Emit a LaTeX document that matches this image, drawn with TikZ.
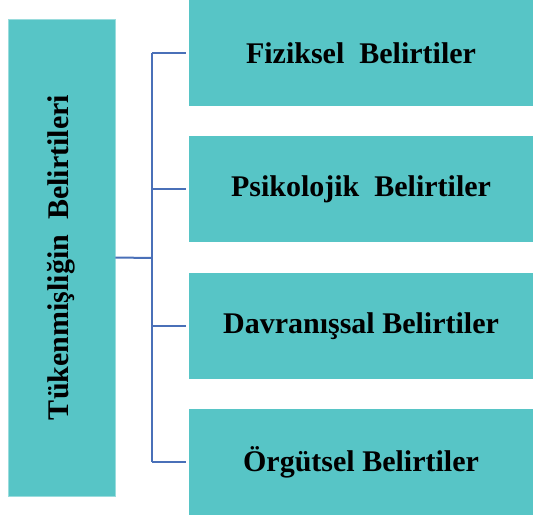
\documentclass[tikz,border=0pt]{standalone}
\usepackage{fontspec}
\setmainfont{Liberation Serif}
\usetikzlibrary{positioning}
\definecolor{boxteal}{HTML}{57C5C6}
\definecolor{linkblue}{HTML}{4A70B8}

\begin{document}
\begin{tikzpicture}[x=1pt, y=-1pt,
  mainbox/.style={rectangle, fill=boxteal, draw=boxteal!60!white, line width=0.6pt,
    minimum width=477pt, minimum height=107pt, inner sep=0pt, rotate=90,
    font=\bfseries\fontsize{30}{34}\selectfont},
  symptom/.style={rectangle, fill=boxteal, minimum width=344pt, minimum height=106pt,
    inner sep=0pt, font=\bfseries\fontsize{30}{34}\selectfont},
  link/.style={draw=linkblue, line width=2pt}]

  \useasboundingbox (0,0) rectangle (533,516);

  % Define nodes
  \node[mainbox] (burnout) at (61.5,257.5) {T\"ukenmi\c{s}li\u{g}in~ Belirtileri};

  \node[symptom] (phys) at (361,53) {Fiziksel~ Belirtiler};
  \node[symptom, below=30pt of phys] (psych) {Psikolojik~ Belirtiler};
  \node[symptom, below=30pt of psych] (behav) {Davran\i\c{s}sal Belirtiler};
  \node[symptom, below=30pt of behav] (org) {\"Org\"utsel Belirtiler};

  \coordinate (hub) at (152,258);

  % connectors
  \draw[link] (burnout.south) -- (hub);
  \draw[link] (hub |- phys) -- (hub |- org);
  \foreach \n in {phys,psych,behav,org}
    \draw[link, shorten >=3pt] (hub |- \n) -- (\n.west);

\end{tikzpicture}
\end{document}
